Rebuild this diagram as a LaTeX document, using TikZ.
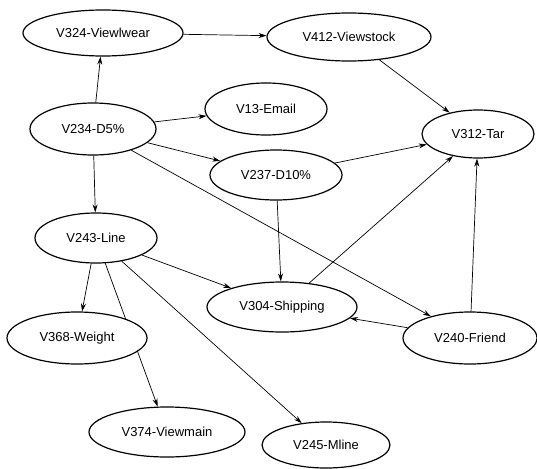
\documentclass[tikz,border=0pt]{standalone}
\usepackage{fontspec}
\setsansfont{Liberation Sans}
\usetikzlibrary{shapes.geometric,arrows.meta,backgrounds}

\begin{document}
\begin{tikzpicture}
    [x=1pt, y=-1pt,
     var/.style={ellipse, line width=1.2pt, draw, fill=white, inner sep=0pt,
                 font=\sffamily\fontsize{13}{15}\selectfont},
     link/.style={-{Stealth[length=8pt,width=5pt]}, line width=0.7pt}]
    \useasboundingbox (0,0) rectangle (537,468);
    \node[var, minimum width=160, minimum height=46] (viewlwear) at (103,33) {V324-Viewlwear};
    \node[var, minimum width=164, minimum height=48] (viewstock) at (349,37) {V412-Viewstock};
    \node[var, minimum width=126, minimum height=52] (dfive) at (93,129) {V234-D5\%};
    \node[var, minimum width=122, minimum height=52] (email) at (266,109) {V13-Email};
    \node[var, minimum width=132, minimum height=50] (dten) at (276,175) {V237-D10\%};
    \node[var, minimum width=112, minimum height=48] (tar) at (478,134) {V312-Tar};
    \node[var, minimum width=122, minimum height=50] (line) at (96,238) {V243-Line};
    \node[var, minimum width=150, minimum height=50] (shipping) at (282,307) {V304-Shipping};
    \node[var, minimum width=140, minimum height=52] (weight) at (77,338) {V368-Weight};
    \node[var, minimum width=134, minimum height=52] (friend) at (470,338) {V240-Friend};
    \node[var, minimum width=156, minimum height=50] (viewmain) at (167,432) {V374-Viewmain};
    \node[var, minimum width=128, minimum height=46] (mline) at (326,445) {V245-Mline};
    \begin{scope}[on background layer]
        \draw[link] (dfive) -- (viewlwear);
        \draw[link] (viewlwear) -- (viewstock);
        \draw[link] (viewstock) -- (tar);
        \draw[link] (dfive) -- (email);
        \draw[link] (dfive) -- (dten);
        \draw[link] (dfive) -- (line);
        \draw[link] (dfive) -- (friend);
        \draw[link] (dten) -- (tar);
        \draw[link] (dten) -- (shipping);
        \draw[link] (shipping) -- (tar);
        \draw[link] (friend) -- (tar);
        \draw[link] (friend) -- (shipping);
        \draw[link] (line) -- (shipping);
        \draw[link] (line) -- (weight);
        \draw[link] (line) -- (viewmain);
        \draw[link] (line) -- (mline);
    \end{scope}
\end{tikzpicture}
\end{document}
